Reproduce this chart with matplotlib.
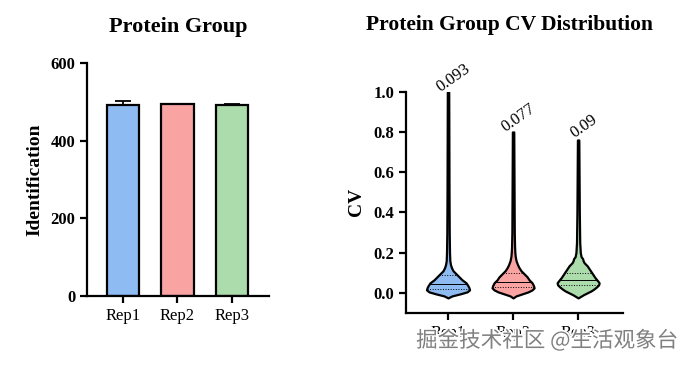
import numpy as np
import matplotlib
matplotlib.use("Agg")
import matplotlib.pyplot as plt
import matplotlib.patheffects as pe

plt.rcParams['font.family'] = ['Liberation Serif', 'DejaVu Serif']

reps = ['Rep1', 'Rep2', 'Rep3']
colors = ['#8fbbf3', '#f9a3a3', '#acdcac']

# protein group identifications
ident = [491, 494, 491]
ident_err = [11, 1, 3]

# CV violin profiles (cv level, half-width in px)
cv1 = [-0.025, -0.015, -0.005, 0.005, 0.015, 0.025, 0.035, 0.05, 0.065, 0.08, 0.095, 0.11, 0.125, 0.14, 0.16, 0.2, 0.3, 0.5, 1.0]
w1 = [0, 4, 12, 19, 21.5, 21, 20, 18, 14, 11, 8, 5, 3.5, 2.5, 1.8, 1.5, 1.2, 1.0, 0.7]
cv2 = [-0.025, -0.015, -0.005, 0.005, 0.015, 0.025, 0.035, 0.05, 0.065, 0.08, 0.095, 0.11, 0.125, 0.14, 0.16, 0.18, 0.2, 0.23, 0.3, 0.5, 0.8]
w2 = [0, 3, 9, 15, 19, 21, 20.5, 19, 16, 14, 11, 8, 6, 4.5, 3, 2.2, 1.8, 1.5, 1.2, 1.0, 0.7]
cv3 = [-0.025, -0.01, 0.0, 0.01, 0.02, 0.03, 0.04, 0.05, 0.06, 0.075, 0.09, 0.105, 0.12, 0.135, 0.15, 0.16, 0.17, 0.18, 0.2, 0.25, 0.4, 0.76]
w3 = [0, 5, 9, 13, 16, 18.5, 20.5, 21, 19.5, 17, 15, 13, 11, 9, 6, 5, 4.5, 3, 2.2, 1.6, 1.2, 0.7]
profiles = [(cv1, w1), (cv2, w2), (cv3, w3)]

q1 = [0.02, 0.03, 0.04]
medians = [0.045, 0.055, 0.065]
q3 = [0.089, 0.10, 0.10]
cv_labels = ['0.093', '0.077', '0.09']

fig = plt.figure(figsize=(6.93, 3.65), dpi=100)

# ---- left: bar chart
ax1 = fig.add_axes([87/693, 1-296/365, (269-87)/693, (296-63)/365])
x = np.arange(3)
ax1.bar(x, ident, width=0.6, color=colors, edgecolor='black', linewidth=1.6, zorder=2)
for i in range(3):
    ax1.errorbar(x[i], ident[i], yerr=[[0], [ident_err[i]]], color='black',
                 capsize=6, capthick=1.3, elinewidth=1.3, zorder=1)
ax1.set_xlim(-0.66, 2.68)
ax1.set_ylim(0, 600)
ax1.set_yticks([0, 200, 400, 600])
ax1.set_xticks(x)
ax1.set_xticklabels(reps, fontsize=12)
ax1.set_ylabel('Identification', fontsize=14, fontweight='bold', labelpad=5)

# ---- right: violins
ax2 = fig.add_axes([406/693, 1-313/365, (623-406)/693, (313-91.7)/365])
px = 65.0  # px per category unit
for i, (cv, w) in enumerate(profiles):
    cv = np.array(cv)
    hw = np.array(w) / px
    ax2.fill_betweenx(cv, i - hw, i + hw, facecolor=colors[i], edgecolor='black',
                      linewidth=1.6, zorder=2)
    for val, ls in [(q1[i], ':'), (medians[i], '-'), (q3[i], ':')]:
        h = np.interp(val, cv, hw)
        ax2.plot([i - h, i + h], [val, val], color='black', lw=0.7, ls=ls, zorder=3)
    ax2.annotate(cv_labels[i], (i, cv[-1]), xytext=(4, 10), textcoords='offset points',
                 ha='center', va='center', rotation=35, fontsize=12)
ax2.set_xlim(-0.646, 2.69)
ax2.set_ylim(-0.1, 1.0)
ax2.set_yticks([0, 0.2, 0.4, 0.6, 0.8, 1.0])
ax2.set_yticklabels(['0.0', '0.2', '0.4', '0.6', '0.8', '1.0'])
ax2.set_xticks(x)
ax2.set_xticklabels(reps, fontsize=12)
ax2.set_ylabel('CV', fontsize=14, fontweight='bold', labelpad=6)

for ax in (ax1, ax2):
    ax.spines['top'].set_visible(False)
    ax.spines['right'].set_visible(False)
    ax.spines['left'].set_linewidth(1.6)
    ax.spines['bottom'].set_linewidth(1.6)
    ax.tick_params(width=1.6, length=5)
    for lab in ax.get_yticklabels():
        lab.set_fontweight('bold')
        lab.set_fontsize(12)
ax2.spines['left'].set_bounds(-0.1, 1.0)

fig.text(178/693, 1-27/365, 'Protein Group', ha='center', va='center',
         fontsize=16, fontweight='bold')
fig.text(510/693, 1-25/365, 'Protein Group CV Distribution', ha='center', va='center',
         fontsize=15.5, fontweight='bold')

fig.text(547/693, 1-341/365, '掘金技术社区 @生活观象台', ha='center', va='center',
         fontsize=15.5, color='#808080', family=['Noto Sans CJK SC', 'DejaVu Sans'],
         path_effects=[pe.withStroke(linewidth=2.5, foreground='white')])

fig.savefig('out.png', dpi=100)
